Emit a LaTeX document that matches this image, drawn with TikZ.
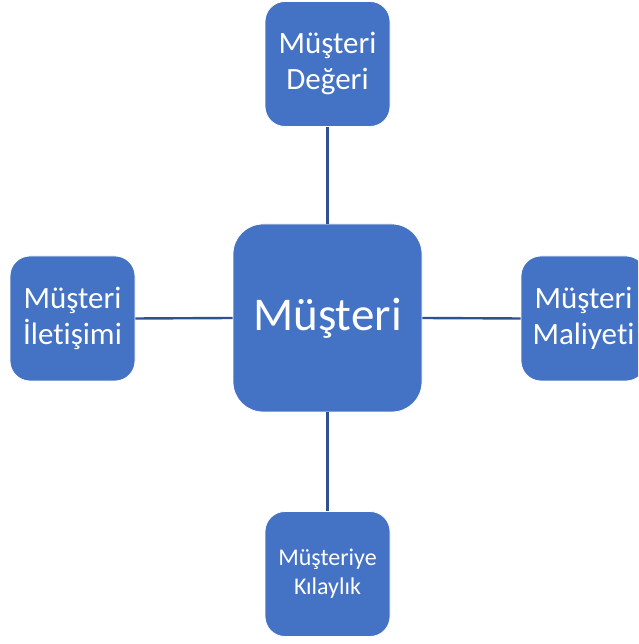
\documentclass[tikz,border=0pt]{standalone}
\usepackage{fontspec}
\setmainfont{Carlito}[Ligatures={NoCommon,NoContextual},RawFeature={-liga;-clig;-calt;-dlig}]
\definecolor{boxblue}{RGB}{68,114,196}
\definecolor{linkblue}{RGB}{47,82,143}
\begin{document}
\begin{tikzpicture}[x=1pt,y=1pt,
  box/.style={draw=white,line width=0.8pt,fill=boxblue,rounded corners=20pt,
    minimum width=125pt,minimum height=125pt,inner sep=0pt,text=white,align=center,
    font=\fontsize{31}{36}\selectfont},
  bigbox/.style={box,rounded corners=30pt,minimum width=189pt,minimum height=188pt,
    font=\fontsize{47}{54}\selectfont},
  smallbox/.style={box,font=\fontsize{24}{29}\selectfont},
  link/.style={draw=linkblue,line width=2.4pt}]
\useasboundingbox (0,0) rectangle (638,644);
\clip (0,0) rectangle (638,644);
\node[bigbox] (c) at (327.5,326) {Müşteri};
\node[box] (t) at (327.5,580) {Müşteri\\Değeri};
\node[box] (l) at (72.5,325.5) {Müşteri\\İletişimi};
\node[box] (r) at (583.5,325.5) {Müşteri\\Maliyeti};
\node[smallbox] (b) at (327.5,70) {Müşteriye\\Kılaylık};
\draw[link] (c.north) -- (t.south);
\draw[link] (c.south) -- (b.north);
\draw[link] (c.west) -- (l.east);
\draw[link] (c.east) -- (r.west);
\end{tikzpicture}
\end{document}
